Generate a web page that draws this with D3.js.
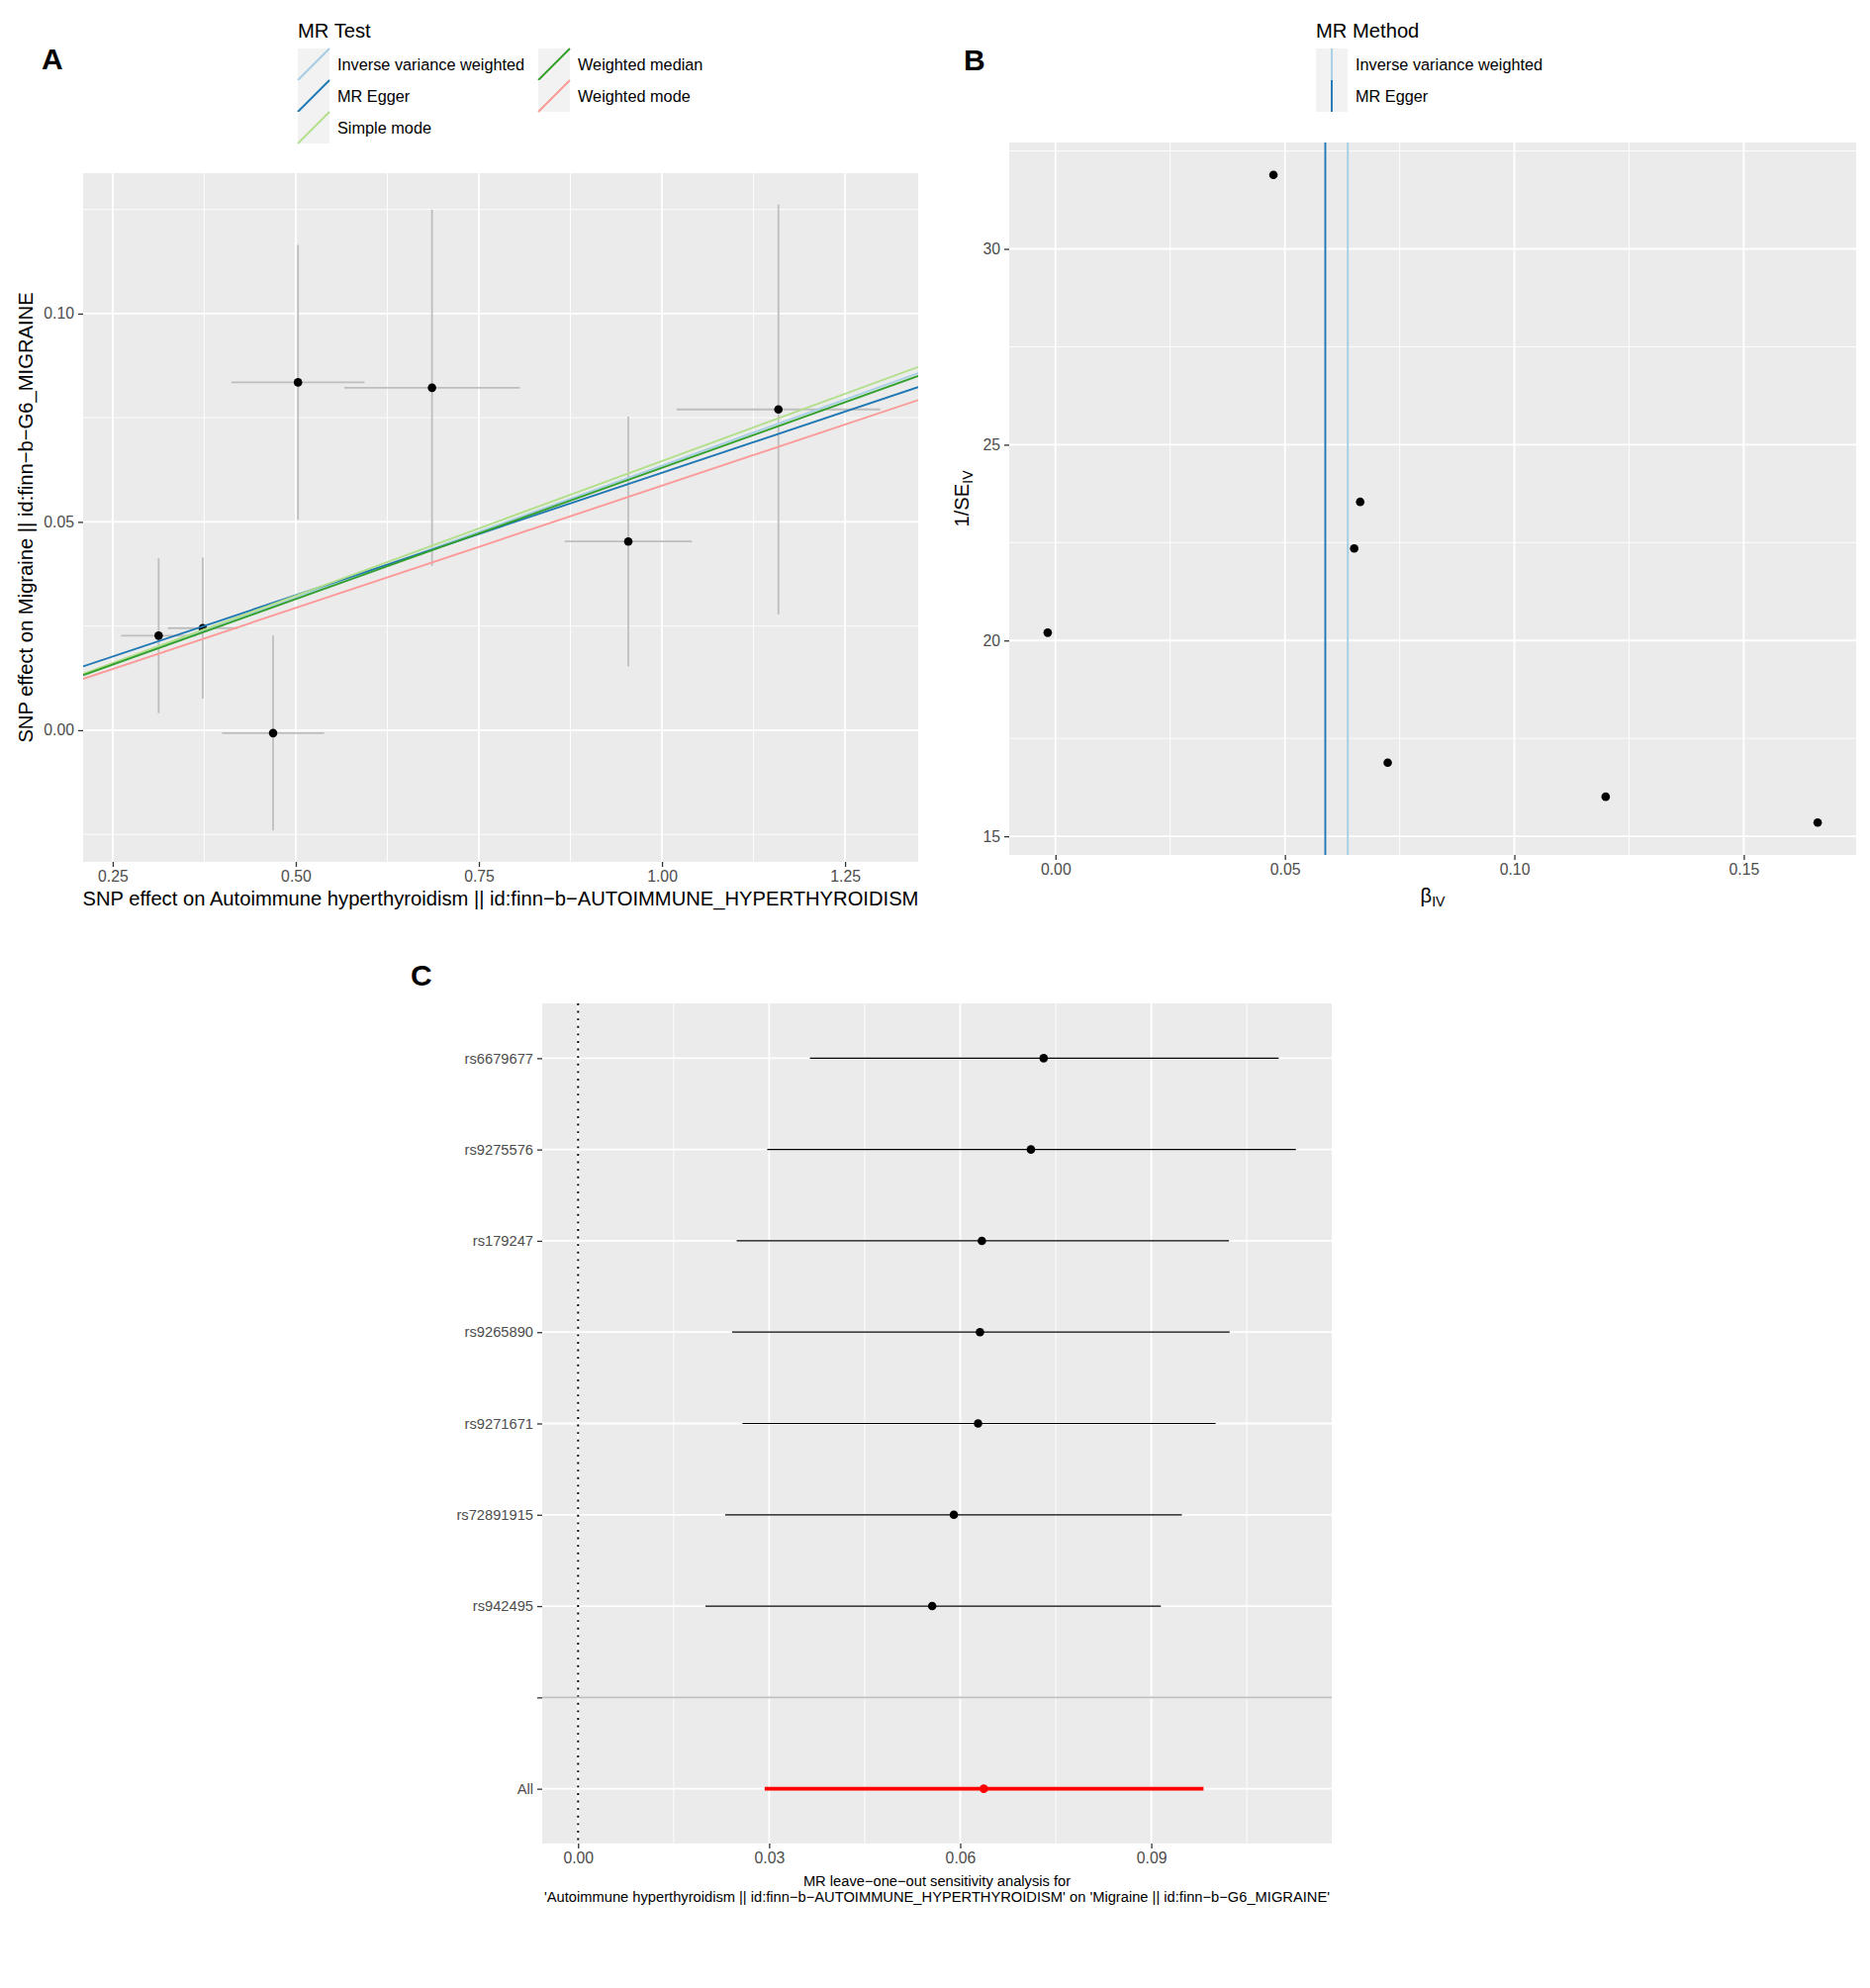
<!DOCTYPE html>
<html>
<head>
<meta charset="utf-8">
<script src="https://cdn.jsdelivr.net/npm/d3@7"></script>
<style>
  body { margin: 0; background: #fff; }
  text { font-family: "Liberation Sans", Arial, sans-serif; }
</style>
</head>
<body>
<script>
// ---- panel A: scatter of SNP effects
const snpBx    = [0.3127, 0.373, 0.503, 0.686, 0.469, 0.954, 1.159];
const snpBxSe  = [0.0513, 0.0477, 0.091, 0.120, 0.0696, 0.0868, 0.139];
const snpBy    = [0.0227, 0.0245, 0.0835, 0.0822, -0.0007, 0.0453, 0.0770];
const snpBySe  = [0.0186, 0.0169, 0.0330, 0.0428, 0.0234, 0.0300, 0.0492];

const methodNames      = ["Inverse variance weighted", "MR Egger", "Simple mode", "Weighted median", "Weighted mode"];
const methodSlopes     = [0.0635, 0.0588, 0.0646, 0.0630, 0.0587];
const methodIntercepts = [0, 0.0030, 0, 0, 0];
const methodColors     = ["#A6CEE3", "#1F78B4", "#B2DF8A", "#33A02C", "#FB9A99"];

const aTicksX = [0.25, 0.50, 0.75, 1.00, 1.25];
const aTicksY = [0.00, 0.05, 0.10];

// ---- panel B: funnel plot
const funnelBeta  = [-0.0017, 0.0475, 0.0664, 0.0651, 0.0724, 0.1199, 0.1661];
const funnelInvSe = [20.20, 31.89, 23.54, 22.35, 16.88, 16.01, 15.35];
const funnelMethods   = ["Inverse variance weighted", "MR Egger"];
const funnelEstimates = [0.0637, 0.0588];
const funnelColors    = ["#A6CEE3", "#1F78B4"];

const bTicksX = [0.00, 0.05, 0.10, 0.15];
const bTicksY = [15, 20, 25, 30];

// ---- panel C: leave-one-out
const looSnps = ["rs6679677", "rs9275576", "rs179247", "rs9265890", "rs9271671", "rs72891915", "rs942495", "", "All"];
const looB    = [0.0731, 0.0711, 0.0634, 0.0631, 0.0628, 0.0590, 0.0556, null, 0.0637];
const looLo   = [0.0364, 0.0297, 0.0249, 0.0242, 0.0258, 0.0231, 0.0200, null, 0.0293];
const looHi   = [0.1100, 0.1127, 0.1022, 0.1023, 0.1001, 0.0948, 0.0915, null, 0.0982];

const cTicksX = [0.00, 0.03, 0.06, 0.09];

const TICK = 15.8, LEGEND = 16.3, TITLE = 20.2, SMALL = 14.7;
const FONT = '"Liberation Sans", Arial, sans-serif';

const svg = d3.select("body").append("svg")
  .attr("width", 1890).attr("height", 2009)
  .style("background", "#fff");

const expand = ([a, b]) => [a - (b - a) * 0.05, b + (b - a) * 0.05];

function minors(majors, domain) {
  const s = majors[1] - majors[0];
  const out = [majors[0] - s / 2].concat(majors.map(t => t + s / 2));
  return out.filter(v => v > domain[0] && v < domain[1]);
}

function panel(box, x, y, xMaj, yMaj, clipId) {
  const g = svg.append("g");
  g.append("rect")
    .attr("x", box.left).attr("y", box.top)
    .attr("width", box.right - box.left).attr("height", box.bottom - box.top)
    .attr("fill", "#ebebeb");
  g.append("clipPath").attr("id", clipId).append("rect")
    .attr("x", box.left).attr("y", box.top)
    .attr("width", box.right - box.left).attr("height", box.bottom - box.top);
  const grid = (vals, w, vertical) => {
    g.selectAll(null).data(vals).enter().append("line")
      .attr("x1", d => vertical ? x(d) : box.left)
      .attr("x2", d => vertical ? x(d) : box.right)
      .attr("y1", d => vertical ? box.top : y(d))
      .attr("y2", d => vertical ? box.bottom : y(d))
      .attr("stroke", "#fff").attr("stroke-width", w);
  };
  if (xMaj) { grid(minors(xMaj, x.domain()), 0.9, true); }
  if (yMaj) { grid(minors(yMaj, y.domain()), 0.9, false); }
  if (xMaj) grid(xMaj, 1.8, true);
  if (yMaj) grid(yMaj, 1.8, false);
  return g;
}

function styleAxis(ax, size) {
  ax.attr("font-family", FONT).attr("font-size", size);
  ax.select(".domain").remove();
  ax.selectAll(".tick line").attr("stroke", "#333").attr("stroke-width", 1.3);
  ax.selectAll(".tick text").attr("fill", "#4d4d4d");
}

function bottomAxis(scale, vals, fmt, yPos) {
  const ax = svg.append("g").attr("transform", `translate(0,${yPos})`)
    .call(d3.axisBottom(scale).tickValues(vals).tickFormat(fmt)
      .tickSize(5).tickSizeOuter(0).tickPadding(4));
  styleAxis(ax, TICK);
}

function leftAxis(scale, vals, fmt, xPos, size) {
  const ax = svg.append("g").attr("transform", `translate(${xPos},0)`)
    .call(d3.axisLeft(scale).tickValues(vals).tickFormat(fmt)
      .tickSize(5).tickSizeOuter(0).tickPadding(4));
  styleAxis(ax, size);
}

function label(txt, x, y) {
  svg.append("text").attr("x", x).attr("y", y)
    .attr("font-size", 30).attr("font-weight", "bold").text(txt);
}

const f2 = d3.format(".2f");

// =============== A ===============
{
  const box = {left: 84, top: 175, right: 928, bottom: 871};
  const x = d3.scaleLinear()
    .domain(expand([d3.min(snpBx, (d, i) => d - snpBxSe[i]), d3.max(snpBx, (d, i) => d + snpBxSe[i])]))
    .range([box.left, box.right]);
  const y = d3.scaleLinear()
    .domain(expand([d3.min(snpBy, (d, i) => d - snpBySe[i]), d3.max(snpBy, (d, i) => d + snpBySe[i])]))
    .range([box.bottom, box.top]);

  const g = panel(box, x, y, aTicksX, aTicksY, "clipA");
  const pts = snpBx.map((d, i) => ({bx: d, bxse: snpBxSe[i], by: snpBy[i], byse: snpBySe[i]}));

  // error bars
  g.selectAll(null).data(pts).enter().append("line")
    .attr("x1", d => x(d.bx)).attr("x2", d => x(d.bx))
    .attr("y1", d => y(d.by - d.byse)).attr("y2", d => y(d.by + d.byse))
    .attr("stroke", "#bebebe").attr("stroke-width", 1.8);
  g.selectAll(null).data(pts).enter().append("line")
    .attr("x1", d => x(d.bx - d.bxse)).attr("x2", d => x(d.bx + d.bxse))
    .attr("y1", d => y(d.by)).attr("y2", d => y(d.by))
    .attr("stroke", "#bebebe").attr("stroke-width", 1.8);
  g.selectAll(null).data(pts).enter().append("circle")
    .attr("cx", d => x(d.bx)).attr("cy", d => y(d.by)).attr("r", 4.3)
    .attr("fill", "#000");

  // regression lines
  const [x0, x1] = x.domain();
  g.append("g").attr("clip-path", "url(#clipA)")
    .selectAll("line").data(methodNames).enter().append("line")
    .attr("x1", x(x0)).attr("x2", x(x1))
    .attr("y1", (d, i) => y(methodIntercepts[i] + methodSlopes[i] * x0))
    .attr("y2", (d, i) => y(methodIntercepts[i] + methodSlopes[i] * x1))
    .attr("stroke", (d, i) => methodColors[i]).attr("stroke-width", 1.9);

  bottomAxis(x, aTicksX, f2, box.bottom);
  leftAxis(y, aTicksY, f2, box.left, TICK);

  svg.append("text").attr("x", (box.left + box.right) / 2).attr("y", 915)
    .attr("text-anchor", "middle").attr("font-size", TITLE)
    .text("SNP effect on Autoimmune hyperthyroidism || id:finn\u2212b\u2212AUTOIMMUNE_HYPERTHYROIDISM");
  svg.append("text")
    .attr("transform", `translate(33,${(box.top + box.bottom) / 2}) rotate(-90)`)
    .attr("text-anchor", "middle").attr("font-size", TITLE)
    .text("SNP effect on Migraine || id:finn\u2212b\u2212G6_MIGRAINE");

  // legend
  const lg = svg.append("g");
  lg.append("text").attr("x", 301).attr("y", 38).attr("font-size", TITLE).text("MR Test");
  const nrow = 3, key = 32;
  const colX = [301, 544];
  methodNames.forEach((m, i) => {
    const cx = colX[Math.floor(i / nrow)], cy = 49 + (i % nrow) * key;
    lg.append("rect").attr("x", cx).attr("y", cy).attr("width", key).attr("height", key).attr("fill", "#f2f2f2");
    lg.append("line").attr("x1", cx).attr("y1", cy + key).attr("x2", cx + key).attr("y2", cy)
      .attr("stroke", methodColors[i]).attr("stroke-width", 1.9);
    lg.append("text").attr("x", cx + 40).attr("y", cy + key / 2).attr("dy", "0.35em")
      .attr("font-size", LEGEND).text(m);
  });

  label("A", 42, 70);
}

// =============== B ===============
{
  const box = {left: 1020, top: 144, right: 1876, bottom: 864};
  const x = d3.scaleLinear().domain(expand(d3.extent(funnelBeta.concat(funnelEstimates)))).range([box.left, box.right]);
  const y = d3.scaleLinear().domain(expand(d3.extent(funnelInvSe))).range([box.bottom, box.top]);
  const g = panel(box, x, y, bTicksX, bTicksY, "clipB");

  g.selectAll(null).data(funnelBeta).enter().append("circle")
    .attr("cx", d => x(d)).attr("cy", (d, i) => y(funnelInvSe[i])).attr("r", 4.3)
    .attr("fill", "#000");
  g.selectAll(null).data(funnelEstimates).enter().append("line")
    .attr("x1", d => x(d)).attr("x2", d => x(d))
    .attr("y1", box.top).attr("y2", box.bottom)
    .attr("stroke", (d, i) => funnelColors[i]).attr("stroke-width", 1.9);

  bottomAxis(x, bTicksX, f2, box.bottom);
  leftAxis(y, bTicksY, d3.format("d"), box.left, TICK);

  const xt = svg.append("text").attr("x", (box.left + box.right) / 2).attr("y", 912)
    .attr("text-anchor", "middle").attr("font-size", TITLE);
  xt.append("tspan").text("\u03B2");
  xt.append("tspan").attr("font-size", TITLE * 0.7).attr("dy", 4).text("IV");

  const yt = svg.append("text")
    .attr("transform", `translate(979,${(box.top + box.bottom) / 2}) rotate(-90)`)
    .attr("text-anchor", "middle").attr("font-size", TITLE);
  yt.append("tspan").text("1/SE");
  yt.append("tspan").attr("font-size", TITLE * 0.7).attr("dy", 4).text("IV");

  const lg = svg.append("g");
  lg.append("text").attr("x", 1330).attr("y", 38).attr("font-size", TITLE).text("MR Method");
  const key = 32;
  funnelMethods.forEach((m, i) => {
    const cy = 49 + i * key;
    lg.append("rect").attr("x", 1330).attr("y", cy).attr("width", key).attr("height", key).attr("fill", "#f2f2f2");
    lg.append("line").attr("x1", 1330 + key / 2).attr("x2", 1330 + key / 2).attr("y1", cy).attr("y2", cy + key)
      .attr("stroke", funnelColors[i]).attr("stroke-width", 1.9);
    lg.append("text").attr("x", 1370).attr("y", cy + key / 2).attr("dy", "0.35em")
      .attr("font-size", LEGEND).text(m);
  });

  label("B", 974, 71);
}

// =============== C ===============
{
  const box = {left: 548, top: 1014, right: 1346, bottom: 1863};
  const x = d3.scaleLinear()
    .domain(expand([Math.min(0, d3.min(looLo)), d3.max(looHi)]))
    .range([box.left, box.right]);
  const y = d3.scalePoint().domain(looSnps).range([box.top, box.bottom]).padding(0.6);

  const g = panel(box, x, null, cTicksX, null, "clipC");
  // horizontal major grid on each category
  g.selectAll(null).data(looSnps).enter().append("line")
    .attr("x1", box.left).attr("x2", box.right)
    .attr("y1", d => y(d)).attr("y2", d => y(d))
    .attr("stroke", "#fff").attr("stroke-width", 1.8);

  const rows = looSnps.map((s, i) => ({snp: s, b: looB[i], lo: looLo[i], hi: looHi[i], all: s === "All"}))
    .filter(d => d.b !== null);

  g.append("line").attr("x1", x(0)).attr("x2", x(0)).attr("y1", box.top).attr("y2", box.bottom)
    .attr("stroke", "#000").attr("stroke-width", 1.9).attr("stroke-dasharray", "1.9 5.7");

  g.selectAll(null).data(rows).enter().append("line")
    .attr("x1", d => x(d.lo)).attr("x2", d => x(d.hi))
    .attr("y1", d => y(d.snp)).attr("y2", d => y(d.snp))
    .attr("stroke", d => d.all ? "#ff0000" : "#000")
    .attr("stroke-width", d => d.all ? 3.8 : 1.2);
  g.selectAll(null).data(rows).enter().append("circle")
    .attr("cx", d => x(d.b)).attr("cy", d => y(d.snp)).attr("r", 4.3)
    .attr("fill", d => d.all ? "#ff0000" : "#000");

  g.append("line").attr("x1", box.left).attr("x2", box.right)
    .attr("y1", y("")).attr("y2", y(""))
    .attr("stroke", "#bebebe").attr("stroke-width", 1.9);

  bottomAxis(x, cTicksX, f2, box.bottom);
  leftAxis(y, looSnps, d => d, box.left, SMALL);

  const cap = svg.append("text").attr("text-anchor", "middle").attr("font-size", SMALL);
  cap.append("tspan").attr("x", (box.left + box.right) / 2).attr("y", 1906)
    .text("MR leave\u2212one\u2212out sensitivity analysis for");
  cap.append("tspan").attr("x", (box.left + box.right) / 2).attr("y", 1922)
    .text("'Autoimmune hyperthyroidism || id:finn\u2212b\u2212AUTOIMMUNE_HYPERTHYROIDISM' on 'Migraine || id:finn\u2212b\u2212G6_MIGRAINE'");

  label("C", 415, 996);
}
</script>
</body>
</html>
